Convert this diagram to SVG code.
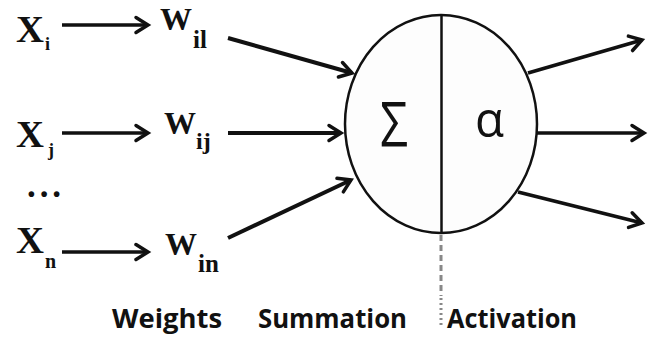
<svg xmlns="http://www.w3.org/2000/svg" width="649" height="345" viewBox="0 0 649 345">
<style>
.v{font-family:"Liberation Serif","Times New Roman",serif;font-weight:bold;fill:#111}
.lab{font-family:"Open Sans","Liberation Sans",sans-serif;font-weight:bold;font-size:27px;fill:#111}
.sym{font-family:"Open Sans","DejaVu Sans",sans-serif;fill:#111}
.c{stroke:#111;fill:none;stroke-linecap:butt}
</style>
<defs>
<marker id="ah" markerUnits="userSpaceOnUse" orient="auto" markerWidth="20" markerHeight="20" refX="0" refY="0" viewBox="-16 -10 20 20" overflow="visible">
<path d="M-12,-7.5 L0,0 L-12,7.5" fill="none" stroke="#111" stroke-width="3.5" stroke-linejoin="miter" stroke-linecap="round"/>
</marker>
</defs>
<rect width="649" height="345" fill="#fff"/>

<g id="neuron">
<ellipse cx="441" cy="124" rx="96" ry="109" fill="#fdfdfd" stroke="#111" stroke-width="2.5"/>
<line x1="441.5" y1="15" x2="441.5" y2="233" stroke="#111" stroke-width="2.5"/>
<text class="sym" x="380" y="147" font-size="62" textLength="28" lengthAdjust="spacingAndGlyphs">Σ</text>
<text class="sym" x="475" y="137" font-size="50" textLength="29" lengthAdjust="spacingAndGlyphs">α</text>
</g>

<g id="divider">
<line x1="441" y1="235" x2="441" y2="296" stroke="#888" stroke-width="3" stroke-dasharray="6,4"/>
<line x1="441" y1="298" x2="441" y2="326" stroke="#888" stroke-width="3" stroke-dasharray="2,3"/>
</g>

<g id="x-i"><text class="v" x="16" y="42" font-size="37" textLength="28" lengthAdjust="spacingAndGlyphs">X</text><text class="v" x="45" y="50" font-size="18">i</text></g>
<g id="x-j"><text class="v" x="16" y="147" font-size="37" textLength="28" lengthAdjust="spacingAndGlyphs">X</text><text class="v" x="48" y="156" font-size="18">j</text></g>
<g id="dots"><text class="v" x="27" y="197" font-size="35" textLength="34" lengthAdjust="spacing">...</text></g>
<g id="x-n"><text class="v" x="16" y="253" font-size="37" textLength="28" lengthAdjust="spacingAndGlyphs">X</text><text class="v" x="45" y="268" font-size="20">n</text></g>

<g id="w-i1"><text class="v" x="160" y="30" font-size="32">W</text><text class="v" x="193" y="48" font-size="25">il</text></g>
<g id="w-ij"><text class="v" x="164" y="134" font-size="32">W</text><text class="v" x="196" y="149" font-size="24">ij</text></g>
<g id="w-in"><text class="v" x="165" y="255" font-size="32">W</text><text class="v" x="198" y="272" font-size="25">in</text></g>

<g id="labels">
<text class="lab" x="112" y="328" textLength="110" lengthAdjust="spacingAndGlyphs">Weights</text>
<text class="lab" x="258" y="328" textLength="149" lengthAdjust="spacingAndGlyphs">Summation</text>
<text class="lab" x="447" y="328" textLength="130" lengthAdjust="spacingAndGlyphs">Activation</text>
</g>

<g id="connectors" class="c">
<line x1="62" y1="25" x2="148" y2="25" stroke-width="3.5" marker-end="url(#ah)"/>
<line x1="62" y1="133" x2="148" y2="133" stroke-width="3.5" marker-end="url(#ah)"/>
<line x1="62" y1="252" x2="148" y2="252" stroke-width="3.5" marker-end="url(#ah)"/>
<line x1="228" y1="38" x2="352" y2="73" stroke-width="4" marker-end="url(#ah)"/>
<line x1="228" y1="133" x2="341" y2="133" stroke-width="4" marker-end="url(#ah)"/>
<line x1="228" y1="238" x2="351" y2="180" stroke-width="4" marker-end="url(#ah)"/>
<line x1="528" y1="73" x2="642" y2="40" stroke-width="3.5" marker-end="url(#ah)"/>
<line x1="537" y1="133" x2="644" y2="133" stroke-width="3.5" marker-end="url(#ah)"/>
<line x1="518" y1="192" x2="642" y2="223" stroke-width="3.5" marker-end="url(#ah)"/>
</g>
</svg>
